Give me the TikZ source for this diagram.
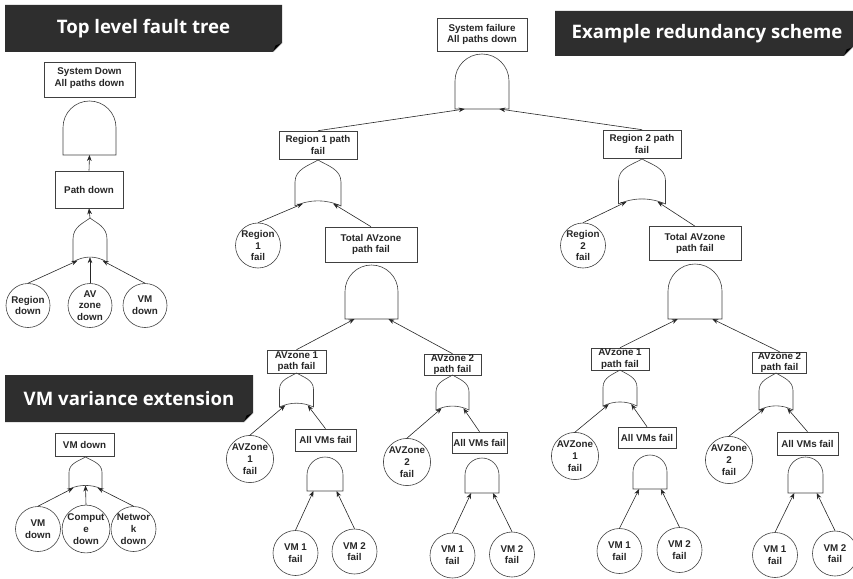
\documentclass[tikz,border=0pt]{standalone}
\usepackage{fontspec}
\setmainfont{Liberation Sans}
\newfontfamily\titlefont{Open Sans}
\usetikzlibrary{arrows.meta}
\definecolor{titlegray}{HTML}{2E2E2E}
\definecolor{linegray}{HTML}{404040}

\newcommand\orgate[5]{% name, cx, top, half width, height
  \draw[gate] ({#2-#4},{#3+#5}) -- ({#2-#4},{#3+0.48*#5})
    .. controls ({#2-#4},{#3+0.2*#5}) and ({#2-0.4*#4},{#3+0.12*#5}) .. (#2,#3)
    .. controls ({#2+0.4*#4},{#3+0.12*#5}) and ({#2+#4},{#3+0.2*#5}) .. ({#2+#4},{#3+0.48*#5})
    -- ({#2+#4},{#3+#5})
    .. controls ({#2+0.35*#4},{#3+0.85*#5}) and ({#2-0.35*#4},{#3+0.85*#5}) .. ({#2-#4},{#3+#5});
  \coordinate (#1) at (#2,#3);
  \coordinate (#1-a) at ({#2-0.66*#4},{#3+0.95*#5});
  \coordinate (#1-b) at ({#2+0.66*#4},{#3+0.95*#5});
  \coordinate (#1-c) at (#2,{#3+0.89*#5});
  \coordinate (#1-d) at ({#2-0.74*#4},{#3+0.97*#5});
  \coordinate (#1-e) at ({#2+0.74*#4},{#3+0.97*#5});
}
\newcommand\andgate[5]{% name, cx, top, half width, bottom
  \draw[gate] ({#2-#4},#5) -- ({#2-#4},{#3+#4}) arc[start angle=180,end angle=360,radius=#4] -- ({#2+#4},#5) -- cycle;
  \coordinate (#1-a) at ({#2-0.64*#4},#5);
  \coordinate (#1-b) at ({#2+0.64*#4},#5);
  \coordinate (#1-c) at (#2,#5);
}
\newcommand\titlebox[4]{% left, top, right, bottom
  \fill[titlegray] (#1,#2) -- (#3,#2) -- (#3,{#4-9}) -- ({#3-9},#4) -- (#1,#4) -- cycle;
  \fill[black] ({#3-9},#4) -- (#3,{#4-9}) -- ({#3-6.5},{#4-6.5}) -- cycle;
  \draw[gray!60,line width=0.4pt] ({#3-9},#4) -- (#3,{#4-9});
}

\begin{document}
\begin{tikzpicture}[x=1pt,y=-1pt,
  lbl/.style={font=\fontsize{9.8}{11.7}\selectfont\bfseries, align=center, text=black!85},
  ebox/.style={lbl, draw=linegray, line width=0.6pt, fill=white, inner sep=0pt},
  evt/.style={lbl, draw=linegray, line width=0.6pt, circle, inner sep=0pt, minimum size=45pt},
  gate/.style={draw=linegray, line width=0.6pt},
  arr/.style={draw=black!85, line width=0.6pt, -{Stealth[length=6pt,width=4.6pt]}},
  ttltext/.style={text=white, font=\titlefont\bfseries\fontsize{18.6}{20}\selectfont},
]
\useasboundingbox (0,0) rectangle (853,578);

% ---------- titles ----------
\titlebox{5}{5}{282}{52}
\node[ttltext] (title1) at (143.5,28.5) {Top level fault tree};
\titlebox{5}{375}{253}{422}
\node[ttltext] (title2) at (129,398.5) {VM variance extension};
\titlebox{555}{11}{853}{56}
\node[ttltext] (title3) at (707,33.5) {Example redundancy scheme};

% ---------- top level fault tree ----------
\node[ebox, minimum width=91pt, minimum height=35pt] (sd) at (89.5,79.5)
  {\raisebox{5pt}{\shortstack{System Down\\All paths down}}};
\andgate{and0}{89.5}{101}{26.5}{155}
\node[ebox, minimum width=68pt, minimum height=37pt] (pd) at (89,189.5) {Path down};
\orgate{or0}{90}{218}{17}{44}
\node[evt, minimum size=44pt] (rd) at (28,305.5) {Region\\down};
\node[evt, minimum size=44pt] (azd) at (90,305.5) {AV\\zone\\down};
\node[evt, minimum size=44pt] (vmd0) at (145,305.5) {VM\\down};
\draw[arr] (pd.north) -- (and0-c);
\draw[arr] (or0) -- (pd.south);
\draw[arr] (rd.north) -- (or0-d);
\draw[arr] (azd.north) -- (or0-c);
\draw[arr] (vmd0.north) -- (or0-e);

% ---------- VM variance extension ----------
\node[ebox, minimum width=59pt, minimum height=23pt] (vmd) at (84.5,444.5) {VM down};
\orgate{or9}{85.5}{457}{16.5}{32}
\node[evt] (vmx) at (38,529) {VM\\down};
\node[evt] (cpx) at (86,529) {Comput\\e\\down};
\node[evt] (nwx) at (133.5,529) {Networ\\k\\down};
\draw[arr] (vmx.north) -- (or9-d);
\draw[arr] (cpx.north) -- (or9-c);
\draw[arr] (nwx.north) -- (or9-e);

% ---------- example redundancy scheme ----------
\node[ebox, minimum width=90pt, minimum height=33pt] (sf) at (482,34.5) {System failure\\All paths down};
\andgate{a1}{482}{54}{27}{109}
\node[ebox, minimum width=78pt, minimum height=28pt] (r1p) at (318,145) {Region 1 path\\fail};
\node[ebox, minimum width=78pt, minimum height=28pt] (r2p) at (642,144) {Region 2 path\\fail};
\draw[arr] (r1p.north) -- (a1-a);
\draw[arr] (r2p.north) -- (a1-b);

\orgate{o1}{318}{160}{23}{46}
\orgate{o2}{642}{159}{23.5}{45}
\node[evt] (reg1) at (258,245.5) {Region\\1\\fail};
\node[evt] (reg2) at (583,245.5) {Region\\2\\fail};
\node[ebox, minimum width=92pt, minimum height=35pt] (t1) at (371,244.5) {Total AVzone\\path fail};
\node[ebox, minimum width=92pt, minimum height=34pt] (t2) at (695,243.5) {Total AVzone\\path fail};
\draw[arr] (reg1.north) -- (o1-a);
\draw[arr] (t1.north) -- (o1-b);
\draw[arr] (reg2.north) -- (o2-a);
\draw[arr] (t2.north) -- (o2-b);

\andgate{a2}{371.5}{265}{26.5}{319}
\andgate{a3}{695}{264}{27}{319}
\node[ebox, minimum width=59pt, minimum height=23pt] (av1L) at (296.5,361.5) {AVzone 1\\path fail};
\node[ebox, minimum width=57pt, minimum height=21pt] (av2L) at (452.5,364.5) {AVzone 2\\path fail};
\node[ebox, minimum width=58pt, minimum height=22pt] (av1R) at (620,359) {AVzone 1\\path fail};
\node[ebox, minimum width=54pt, minimum height=21pt] (av2R) at (779.5,362.5) {AVzone 2\\path fail};
\draw[arr] (av1L.north) -- (a2-a);
\draw[arr] (av2L.north) -- (a2-b);
\draw[arr] (av1R.north) -- (a3-a);
\draw[arr] (av2R.north) -- (a3-b);

\orgate{o3}{296.5}{373}{17}{34}
\orgate{o4}{452.5}{375}{16.5}{35}
\orgate{o5}{620}{370}{17}{36}
\orgate{o6}{776}{373}{17}{37}

\node[evt] (z1L) at (250,459) {AVZone\\1\\fail};
\node[evt] (z2L) at (407,462) {AVZone\\2\\fail};
\node[evt] (z1R) at (575,456) {AVZone\\1\\fail};
\node[evt] (z2R) at (729,460) {AVZone\\2\\fail};
\node[ebox, minimum width=61pt, minimum height=22pt] (allL1) at (325.5,440) {All VMs fail};
\node[ebox, minimum width=55pt, minimum height=21pt] (allL2) at (479.5,442.5) {All VMs fail};
\node[ebox, minimum width=58pt, minimum height=21pt] (allR1) at (647,437.5) {All VMs fail};
\node[ebox, minimum width=61pt, minimum height=23pt] (allR2) at (807.5,443.5) {All VMs fail};
\draw[arr] (z1L.north) -- (o3-a);
\draw[arr] (allL1.north) -- (o3-b);
\draw[arr] (z2L.north) -- (o4-a);
\draw[arr] (allL2.north) -- (o4-b);
\draw[arr] (z1R.north) -- (o5-a);
\draw[arr] (allR1.north) -- (o5-b);
\draw[arr] (z2R.north) -- (o6-a);
\draw[arr] (allR2.north) -- (o6-b);

\andgate{a4}{325}{457}{18}{491}
\andgate{a5}{482}{458}{17}{493}
\andgate{a6}{650}{455}{17}{489}
\andgate{a7}{805.5}{457}{17.5}{493}

\node[evt] (m1L1) at (295.5,553) {VM 1\\fail};
\node[evt] (m2L1) at (354.5,551.5) {VM 2\\fail};
\node[evt] (m1L2) at (452.5,555.5) {VM 1\\fail};
\node[evt] (m2L2) at (512,554.5) {VM 2\\fail};
\node[evt] (m1R1) at (619.5,551) {VM 1\\fail};
\node[evt] (m2R1) at (679.5,550) {VM 2\\fail};
\node[evt] (m1R2) at (775,555) {VM 1\\fail};
\node[evt] (m2R2) at (835,553.5) {VM 2\\fail};
\draw[arr] (m1L1.north) -- (a4-a);
\draw[arr] (m2L1.north) -- (a4-b);
\draw[arr] (m1L2.north) -- (a5-a);
\draw[arr] (m2L2.north) -- (a5-b);
\draw[arr] (m1R1.north) -- (a6-a);
\draw[arr] (m2R1.north) -- (a6-b);
\draw[arr] (m1R2.north) -- (a7-a);
\draw[arr] (m2R2.north) -- (a7-b);
\end{tikzpicture}
\end{document}
